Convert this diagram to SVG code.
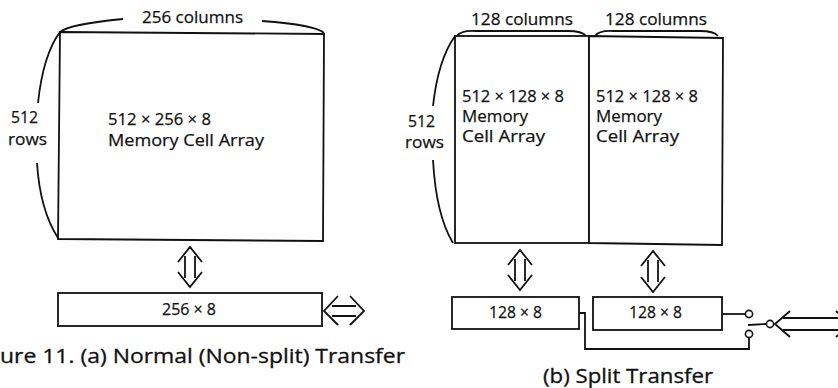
<svg xmlns="http://www.w3.org/2000/svg" width="838" height="388" viewBox="0 0 838 388">
<style>
.ln{fill:none;stroke:#111;stroke-width:1.8;stroke-linejoin:miter}
.bx{fill:#fff;stroke:#111;stroke-width:1.8}
.t{font-family:"Open Sans","Liberation Sans",sans-serif;font-size:17px;fill:#111;stroke:#111;stroke-width:0.25}
.c{font-family:"Open Sans","Liberation Sans",sans-serif;font-size:20px;fill:#111;stroke:#111;stroke-width:0.3}
.dot{fill:#fff;stroke:#111;stroke-width:1.6}
</style>
<rect width="838" height="388" fill="#fff"/>

<!-- (a) Normal transfer -->
<g id="array-a">
  <path class="bx" d="M60,32 L324,34 L323,241 L58,239 Z"/>
  <text class="t" x="108" y="125" textLength="103" lengthAdjust="spacingAndGlyphs">512 × 256 × 8</text>
  <text class="t" x="108" y="146" textLength="156" lengthAdjust="spacingAndGlyphs">Memory Cell Array</text>
</g>
<g id="cols-a">
  <path class="ln" d="M60,32 Q70,24 123,19"/>
  <path class="ln" d="M262,21 Q316,25 324,33"/>
  <text class="t" x="142" y="23" textLength="101" lengthAdjust="spacingAndGlyphs">256 columns</text>
</g>
<g id="rows-a">
  <path class="ln" d="M60,32 Q43,55 38,103"/>
  <path class="ln" d="M37,163 Q40,210 58,238"/>
  <text class="t" x="11" y="123" textLength="27" lengthAdjust="spacingAndGlyphs">512</text>
  <text class="t" x="8" y="145" textLength="39" lengthAdjust="spacingAndGlyphs">rows</text>
</g>
<g id="reg-a">
  <rect class="bx" x="58" y="293" width="264" height="33"/>
  <text class="t" x="162" y="315" textLength="54" lengthAdjust="spacingAndGlyphs">256 × 8</text>
</g>

<!-- (b) Split transfer -->
<g id="array-b1">
  <rect class="bx" x="455" y="36" width="134" height="207"/>
  <text class="t" x="462" y="102" textLength="102" lengthAdjust="spacingAndGlyphs">512 × 128 × 8</text>
  <text class="t" x="462" y="122" textLength="66" lengthAdjust="spacingAndGlyphs">Memory</text>
  <text class="t" x="462" y="142" textLength="83" lengthAdjust="spacingAndGlyphs">Cell Array</text>
</g>
<g id="array-b2">
  <path class="bx" d="M589,36 L723,38 L722,245 L589,243 Z"/>
  <text class="t" x="596" y="102" textLength="102" lengthAdjust="spacingAndGlyphs">512 × 128 × 8</text>
  <text class="t" x="596" y="122" textLength="66" lengthAdjust="spacingAndGlyphs">Memory</text>
  <text class="t" x="596" y="142" textLength="83" lengthAdjust="spacingAndGlyphs">Cell Array</text>
</g>
<g id="cols-b">
  <path class="ln" d="M457,36 Q461,30 476,31 L568,31 Q582,31 586,36"/>
  <path class="ln" d="M595,36 Q599,30 614,31 L700,31 Q714,31 718,36"/>
  <text class="t" x="471" y="25" textLength="102" lengthAdjust="spacingAndGlyphs">128 columns</text>
  <text class="t" x="605" y="25" textLength="102" lengthAdjust="spacingAndGlyphs">128 columns</text>
</g>
<g id="rows-b">
  <path class="ln" d="M455,36 Q438,60 433,106"/>
  <path class="ln" d="M433,160 Q436,215 453,243"/>
  <text class="t" x="408" y="127" textLength="27" lengthAdjust="spacingAndGlyphs">512</text>
  <text class="t" x="405" y="148" textLength="39" lengthAdjust="spacingAndGlyphs">rows</text>
</g>
<g id="reg-b1">
  <rect class="bx" x="452" y="297" width="127" height="32"/>
  <text class="t" x="489" y="318" textLength="53" lengthAdjust="spacingAndGlyphs">128 × 8</text>
</g>
<g id="reg-b2">
  <rect class="bx" x="593" y="297" width="129" height="33"/>
  <text class="t" x="629" y="318" textLength="53" lengthAdjust="spacingAndGlyphs">128 × 8</text>
</g>
<g id="switch">
  <circle class="dot" cx="749" cy="314" r="3.6"/>
  <circle class="dot" cx="749" cy="334" r="3.6"/>
  <circle class="dot" cx="770" cy="324" r="3.6"/>
  <path class="ln" d="M748,325 L766,324"/>
</g>

<g id="connectors">
  <path class="ln" d="M178,262 L190,247 L202,262 M185,256 L185,278 M195,256 L195,278 M178,272 L190,287 L202,272"/>
  <path class="ln" d="M338,296 L324,311 L338,325 M332,306 L356,306 M332,316 L356,316 M350,296 L364,311 L350,325"/>
  <path class="ln" d="M508,265 L520,250 L532,265 M515,259 L515,281 M525,259 L525,281 M508,275 L520,290 L532,275"/>
  <path class="ln" d="M641,266 L653,251 L665,266 M648,260 L648,282 M658,260 L658,282 M641,277 L653,292 L665,277"/>
  <path class="ln" d="M722,314 L745.4,314"/>
  <path class="ln" d="M579,313 L585,313 L585,349 L749,349 L749,337.6"/>
  <path class="ln" d="M790,311 L775,324 L790,337 M783,318 L845,318 M783,330 L845,330 M836,311 L851,324 L836,337"/>
</g>

<g id="captions">
  <text class="c" x="0" y="363" textLength="405" lengthAdjust="spacingAndGlyphs">ure 11.  (a) Normal (Non-split) Transfer</text>
  <text class="c" x="543" y="383" textLength="170" lengthAdjust="spacingAndGlyphs">(b) Split Transfer</text>
</g>
</svg>
